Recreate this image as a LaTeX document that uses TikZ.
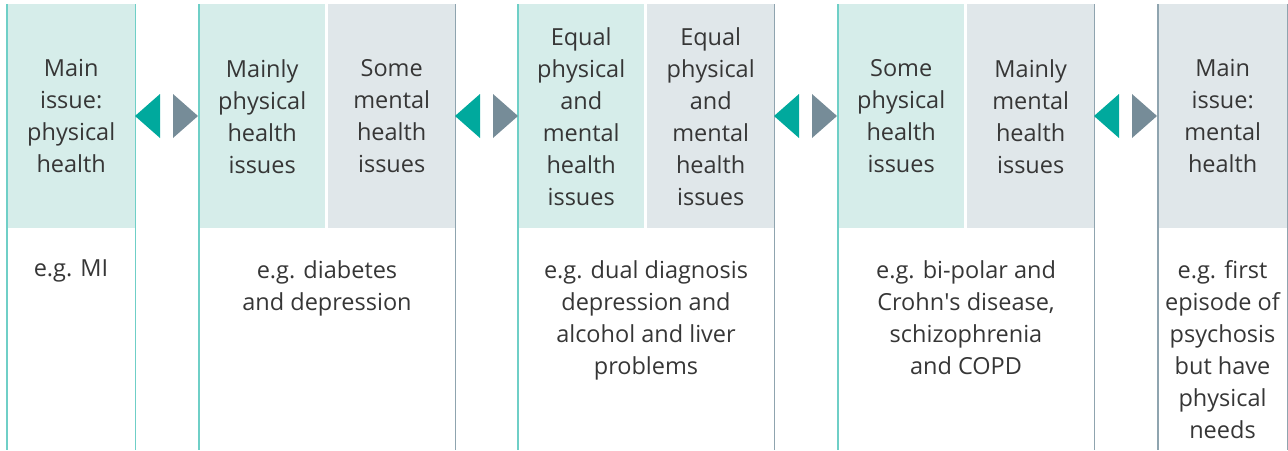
\documentclass[tikz,border=0pt]{standalone}
\usepackage{fontspec}
\setmainfont{Open Sans}
\usepackage{xcolor}

\definecolor{tealfill}{HTML}{D6EDEA}
\definecolor{greyfill}{HTML}{E0E7EA}
\definecolor{tealline}{HTML}{6FCFC7}
\definecolor{greyline}{HTML}{8FA4AF}
\definecolor{tealarrow}{HTML}{00A99D}
\definecolor{greyarrow}{HTML}{768C98}
\definecolor{txt}{HTML}{363636}

\tikzset{
	cell/.style={anchor=north west, inner sep=0pt, minimum height=224pt, align=center, text=txt, font=\fontsize{23.5}{32}\selectfont},
	physcell/.style={cell, fill=tealfill},
	mentcell/.style={cell, fill=greyfill},
	example/.style={anchor=north, inner sep=0pt, align=center, text=txt, font=\fontsize{23.5}{32}\selectfont},
	physline/.style={tealline, line width=1.6pt},
	mentline/.style={greyline, line width=1.4pt}
}

\begin{document}
\begin{tikzpicture}[x=1pt, y=-1pt]
	\useasboundingbox (0,0) rectangle (1288,450);
	
	\node [physcell, minimum width=128pt] (p1) at (7,4) {Main\\issue:\\physical\\health};
	\node [physcell, minimum width=126pt] (p2) at (199,4) {Mainly\\physical\\health\\issues};
	\node [mentcell, minimum width=127pt] (m2) at (328,4) {Some\\mental\\health\\issues};
	\node [physcell, minimum width=126pt] (p3) at (518,4) {Equal\\physical\\and\\mental\\health\\issues};
	\node [mentcell, minimum width=127pt] (m3) at (647,4) {Equal\\physical\\and\\mental\\health\\issues};
	\node [physcell, minimum width=126pt] (p4) at (838,4) {Some\\physical\\health\\issues};
	\node [mentcell, minimum width=127pt] (m4) at (967,4) {Mainly\\mental\\health\\issues};
	\node [mentcell, minimum width=129pt] (m5) at (1158,4) {Main\\issue:\\mental\\health};
	
	\node [example] (e1) at (71,260) {e.g. MI};
	\node [example] (e2) at (327,260) {e.g. diabetes\\and depression};
	\node [example] (e3) at (646,260) {e.g. dual diagnosis\\depression and\\alcohol and liver\\problems};
	\node [example] (e4) at (966,260) {e.g. bi-polar and\\Crohn\textquotesingle s disease,\\schizophrenia\\and COPD};
	\node [example] (e5) at (1222.5,260) {e.g. first\\episode of\\psychosis\\but have\\physical\\needs};
	
	\draw [physline] (p1.north west) -- ++(0,446);
	\draw [physline] (p1.north east) -- ++(0,446);
	\draw [physline] (p2.north west) -- ++(0,446);
	\draw [mentline] (m2.north east) -- ++(0,446);
	\draw [physline] (p3.north west) -- ++(0,446);
	\draw [mentline] (m3.north east) -- ++(0,446);
	\draw [physline] (p4.north west) -- ++(0,446);
	\draw [mentline] (m4.north east) -- ++(0,446);
	\draw [mentline] (m5.north west) -- ++(0,446);
	\draw [mentline] (m5.north east) -- ++(0,446);
	
	\coordinate (g1) at (135,116);
	\coordinate (g2) at (455,116);
	\coordinate (g3) at (774,116);
	\coordinate (g4) at (1094,116);
	
	\fill [tealarrow] (g1) -- ++(25,-22) -- ++(0,44) -- cycle;
	\fill [greyarrow] (g1) ++(38,-22) -- ++(25,22) -- ++(-25,22) -- cycle;
	\fill [tealarrow] (g2) -- ++(25,-22) -- ++(0,44) -- cycle;
	\fill [greyarrow] (g2) ++(38,-22) -- ++(25,22) -- ++(-25,22) -- cycle;
	\fill [tealarrow] (g3) -- ++(25,-22) -- ++(0,44) -- cycle;
	\fill [greyarrow] (g3) ++(38,-22) -- ++(25,22) -- ++(-25,22) -- cycle;
	\fill [tealarrow] (g4) -- ++(25,-22) -- ++(0,44) -- cycle;
	\fill [greyarrow] (g4) ++(38,-22) -- ++(25,22) -- ++(-25,22) -- cycle;
\end{tikzpicture}
\end{document}
